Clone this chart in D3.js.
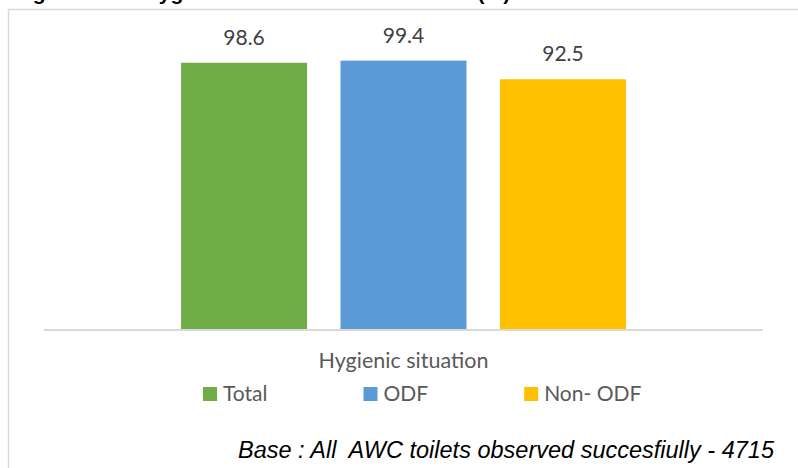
<!DOCTYPE html>
<html>
<head>
<meta charset="utf-8">
<script src="https://cdn.jsdelivr.net/npm/d3@7"></script>
<style>
  html, body { margin: 0; padding: 0; background: #fff; overflow: hidden; }
  svg { display: block; }
</style>
</head>
<body>
<svg id="chart" width="798" height="468"></svg>
<script>
// Chart data
const titleText = "Figure 4.15 : Hygienic situation of AWC toilets (%)";
const categories = ["Hygienic situation"];
const seriesNames = ["Total", "ODF", "Non- ODF"];
const seriesValues = [98.6, 99.4, 92.5];
const seriesColors = ["#70ad47", "#5b9bd5", "#ffc000"];
const baseNote = "Base : All  AWC toilets observed succesfiully - 4715";

const svg = d3.select("#chart");
const W = 798, H = 468;
const uiFont = "Lato, 'Open Sans', sans-serif";

// Title (runs off the top edge of the frame)
svg.append("text")
  .attr("x", 14).attr("y", -0.5)
  .attr("font-family", "'Liberation Sans', Arial, sans-serif")
  .attr("font-weight", "bold")
  .attr("font-size", 21)
  .attr("fill", "#000")
  .style("white-space", "pre")
  .text(titleText);

// Chart frame
svg.append("rect")
  .attr("x", 8.5).attr("y", 9.5)
  .attr("width", W + 10).attr("height", H + 10)
  .attr("fill", "#fff")
  .attr("stroke", "#d9d9d9")
  .attr("stroke-width", 1.5);

// Scales
const plot = { left: 44, right: 763, top: 59, bottom: 329 };
const x0 = d3.scaleBand()
  .domain(categories)
  .range([plot.left, plot.right])
  .paddingInner(0)
  .paddingOuter(0.308);
const x1 = d3.scaleBand()
  .domain(seriesNames)
  .range([0, x0.bandwidth()])
  .paddingInner(0.21)
  .paddingOuter(0);
const y = d3.scaleLinear().domain([0, 100]).range([plot.bottom, plot.top]);
const color = d3.scaleOrdinal().domain(seriesNames).range(seriesColors);

const rows = seriesNames.map((s, i) => ({ cat: categories[0], name: s, value: seriesValues[i] }));

// Bars
svg.append("g").selectAll("rect")
  .data(rows)
  .join("rect")
  .attr("x", d => x0(d.cat) + x1(d.name))
  .attr("y", d => y(d.value))
  .attr("width", x1.bandwidth())
  .attr("height", d => y(0) - y(d.value))
  .attr("fill", d => color(d.name));

// Value labels
svg.append("g").selectAll("text")
  .data(rows)
  .join("text")
  .attr("x", d => x0(d.cat) + x1(d.name) + x1.bandwidth() / 2)
  .attr("y", d => y(d.value) - 18)
  .attr("text-anchor", "middle")
  .attr("font-family", uiFont)
  .attr("font-size", 21)
  .attr("fill", "#404040")
  .text(d => d.value.toFixed(1));

// Category axis
const xAxis = d3.axisBottom(x0).tickSize(0);
const axisG = svg.append("g")
  .attr("transform", `translate(0,${plot.bottom + 1})`)
  .call(xAxis);
axisG.select(".domain")
  .attr("d", `M${plot.left},0H${plot.right}`)
  .attr("stroke", "#d9d9d9")
  .attr("stroke-width", 2);
axisG.selectAll(".tick text")
  .attr("font-family", uiFont)
  .attr("font-size", 21.5)
  .attr("fill", "#595959")
  .attr("dy", null)
  .attr("y", 38);

// Legend: entries laid out left to right with equal gaps
const legend = svg.append("g");
let lx = 203;
const legendBaseline = 401;
seriesNames.forEach((name, i) => {
  legend.append("rect")
    .attr("x", lx).attr("y", legendBaseline - 14)
    .attr("width", 14).attr("height", 14)
    .attr("fill", color(name));
  const t = legend.append("text")
    .attr("x", lx + 20).attr("y", legendBaseline)
    .attr("font-family", uiFont)
    .attr("font-size", 21)
    .attr("fill", "#595959")
    .text(name);
  lx += 20 + t.node().getComputedTextLength() + 96;
});

// Base note
svg.append("text")
  .attr("x", 238).attr("y", 458)
  .attr("font-family", "'Liberation Sans', Arial, sans-serif")
  .attr("font-style", "italic")
  .attr("font-size", 23.5)
  .attr("fill", "#000")
  .style("white-space", "pre")
  .text(baseNote);
</script>
</body>
</html>
